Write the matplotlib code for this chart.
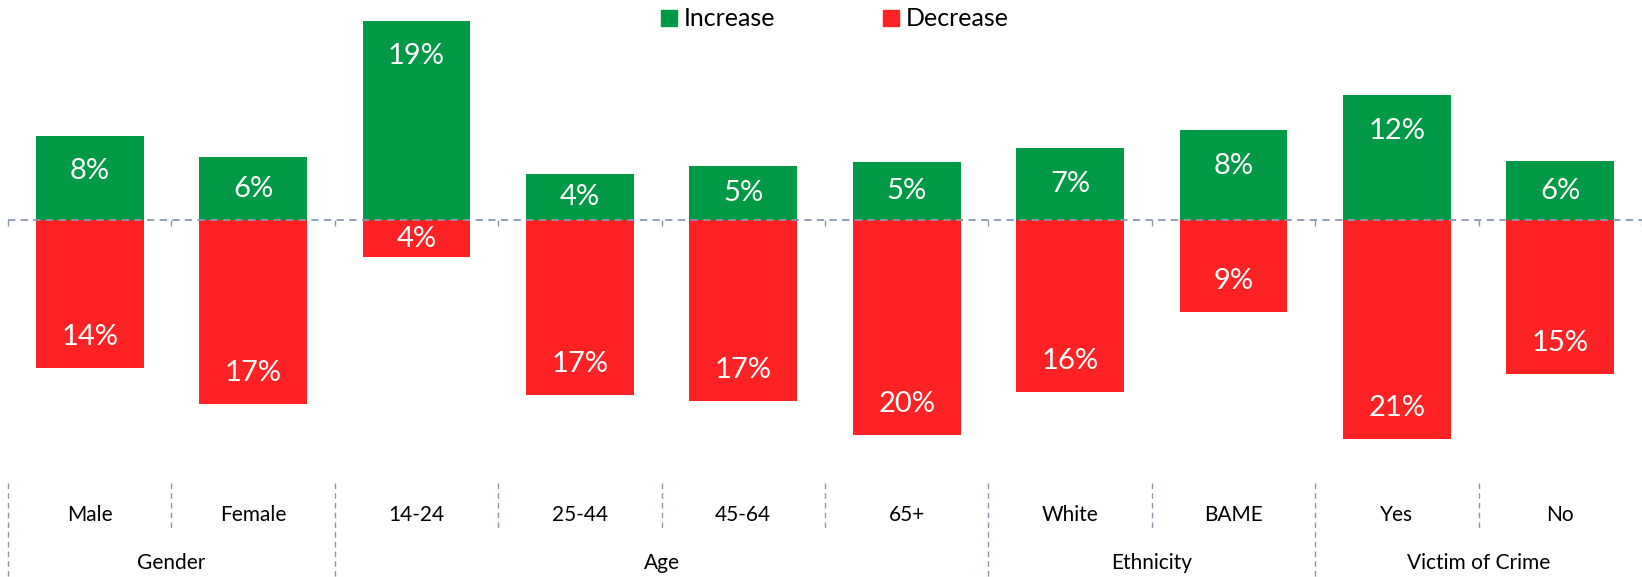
import numpy as np
import matplotlib
matplotlib.use('Agg')
import matplotlib.pyplot as plt
from matplotlib.transforms import blended_transform_factory

plt.rcParams['font.family'] = ['Lato', 'DejaVu Sans']

# data (percent of respondents)
categories = ['Male', 'Female', '14-24', '25-44', '45-64', '65+', 'White', 'BAME', 'Yes', 'No']
increase = [7.99, 5.97, 18.86, 4.39, 5.12, 5.50, 6.79, 8.50, 11.82, 5.56]
decrease = [14.06, 17.47, 3.51, 16.56, 17.19, 20.38, 16.33, 8.69, 20.76, 14.63]
increase_labels = ['8%', '6%', '19%', '4%', '5%', '5%', '7%', '8%', '12%', '6%']
decrease_labels = ['14%', '17%', '4%', '17%', '17%', '20%', '16%', '9%', '21%', '15%']
groups = ['Gender', 'Age', 'Ethnicity', 'Victim of Crime']
group_start = [0, 2, 6, 8]
group_end = [1, 5, 7, 9]

green = '#009A46'
red = '#FF2225'
grid_col = '#8A97AD'

W, H = 1642, 577
fig = plt.figure(figsize=(W / 100, H / 100), dpi=100)
ax = fig.add_axes([8 / W, (H - 440) / H, (W - 8) / W, 440 / H])

x = np.arange(len(categories))
ax.bar(x, increase, width=0.66, color=green, zorder=2)
ax.bar(x, -np.array(decrease), width=0.66, color=red, zorder=2)

# value labels, inside end of each bar
for i in range(len(categories)):
    yi = increase[i] - min(3.35, increase[i] / 2)
    ax.text(x[i], yi, increase_labels[i], ha='center', va='center', color='white', fontsize=21, zorder=4)
    yd = -(decrease[i] - min(2.95, decrease[i] / 2))
    ax.text(x[i], yd, decrease_labels[i], ha='center', va='center', color='white', fontsize=21, zorder=4)

# dashed zero line on top of the bars
ax.axhline(0, color=grid_col, lw=1.3, ls=(0, (4, 3)), zorder=3)

ax.set_xlim(-0.5, len(categories) - 0.5)
ax.set_ylim(-220 / 10.55, 220 / 10.55)
bounds = np.arange(len(categories) + 1) - 0.5
ax.set_xticks(bounds)
ax.set_xticklabels([])
ax.tick_params(axis='x', direction='out', length=4, width=1, color=grid_col)
ax.set_yticks([])
for s in ax.spines.values():
    s.set_visible(False)
# move ticks to sit on the zero line
ax.spines['bottom'].set_position(('data', 0))

# category axis below the plot
trans = blended_transform_factory(ax.transData, fig.transFigure)
y_top = 1 - 483 / H
y_mid = 1 - 530 / H
for b in bounds[:-1]:
    idx = int(b + 0.5)
    y_bot = 0 if idx in group_start else y_mid
    ax.plot([b, b], [y_top, y_bot], transform=trans, color=grid_col, lw=1, ls=(0, (4, 3)), clip_on=False)

for i, c in enumerate(categories):
    ax.text(x[i], 1 - 515 / H, c, transform=trans, ha='center', va='center', fontsize=15)
for g, a, b in zip(groups, group_start, group_end):
    ax.text((a + b) / 2, 1 - 563 / H, g, transform=trans, ha='center', va='center', fontsize=15)

# legend
h1 = plt.Rectangle((0, 0), 1, 1, color=green)
h2 = plt.Rectangle((0, 0), 1, 1, color=red)
fig.legend([h1, h2], ['Increase', 'Decrease'], loc='center', bbox_to_anchor=(835 / W, 1 - 19 / H),
           ncol=2, frameon=False, fontsize=18, handlelength=0.62, handleheight=0.62,
           handletextpad=0.3, columnspacing=4.3)

fig.savefig('out.png', dpi=100)
